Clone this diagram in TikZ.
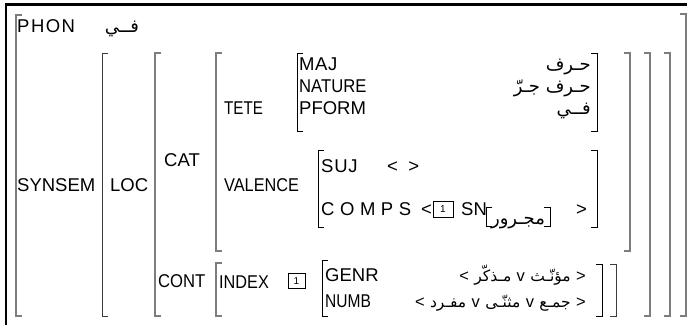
\documentclass[tikz,border=0pt]{standalone}
\usepackage{graphicx}
\usepackage{fontspec}
\setmainfont{Liberation Sans}
\newfontfamily\ar[Script=Arabic]{DejaVu Sans}
\TeXXeTstate=1
\definecolor{brk}{RGB}{125,125,125}
\definecolor{brkd}{RGB}{60,60,60}
\newcommand\avmL[4][big]{\draw[#1] (#2+6,#3) -- (#2,#3) -- (#2,#4) -- (#2+6,#4);}
\newcommand\avmR[4][big]{\draw[#1] (#2-6,#3) -- (#2,#3) -- (#2,#4) -- (#2-6,#4);}
\newcommand\LS[2]{{\addfontfeature{LetterSpace=#1}#2}}
\newcommand\SX[2]{\scalebox{#1}[1]{#2}}
\newcommand\AW[1]{{\ar\fontsize{15.5}{17}\selectfont\beginR #1\endR}}
\begin{document}
\begin{tikzpicture}[x=1pt,y=-1pt,
  big/.style={line width=1.4pt,draw=brk},
  dk/.style={line width=1pt,draw=brkd},
  thin/.style={line width=0.9pt,draw=black},
  lab/.style={anchor=base west,inner sep=0pt,font=\fontsize{18.5}{21}\selectfont},
  arv/.style={anchor=base east,inner sep=0pt,font=\ar\fontsize{18}{21}\selectfont},
  row/.style={anchor=base east,inner sep=0pt,font=\fontsize{16.5}{19}\selectfont},
  tagbox/.style={draw=black,line width=0.7pt,minimum width=20pt,minimum height=16pt,inner sep=0pt,font=\fontsize{10}{11}\selectfont}]
\useasboundingbox (0,0) rectangle (687,325);
% frame
\draw[line width=2.6pt,black] (6,325) -- (6,4.7) -- (687,4.7);
% brackets
\avmL{16}{15}{316}   \avmR{686}{14}{316}
\avmL[dk]{102}{53}{316} \avmR{670}{53}{316}
\avmL{155}{53}{316}  \avmR{650}{53}{316}
\avmL{216}{53}{251}  \avmR{630}{53}{251}
\avmL[thin]{297}{53}{131} \avmR[thin]{597}{53}{131}
\avmL[thin]{318}{150}{227} \avmR[thin]{597}{150}{227}
\avmL{216}{263}{316} \avmR[dk]{616}{264}{316}
\avmL[thin]{322}{260}{316} \avmR[thin]{602}{264}{316}
\avmL[thin]{486}{207}{226} \avmR[thin]{550}{207}{226}
% texts
\node[lab] (phon) at (17,32) {\LS{8}{PHON}};
\node[arv,anchor=base] (phonv) at (122,32) {\beginR فــي\endR};
\node[lab] (synsem) at (17,191) {SYNSEM};
\node[lab] (loc) at (110,191) {LOC};
\node[lab] (cat) at (164,166) {CAT};
\node[lab] (tete) at (224,114) {\SX{0.82}{TETE}};
\node[lab] (valence) at (224,191) {\SX{0.88}{VALENCE}};
\node[lab] (maj) at (299,70) {\LS{3}{MAJ}};
\node[lab] (nature) at (299,92) {\SX{0.9}{NATURE}};
\node[lab] (pform) at (299,114) {PFORM};
\node[arv] (majv) at (591,70) {\beginR حـرف\endR};
\node[arv] (naturev) at (591,92) {\beginR حـرف جـرّ\endR};
\node[arv] (pformv) at (591,114) {\beginR فــي\endR};
\node[lab] (suj) at (321,172) {\LS{4}{SUJ}};
\node[lab] (sujv) at (387,172) {<\ \ >};
\node[lab] (comps) at (321,215) {\LS{30}{COMPS}};
\node[lab] (lt) at (421,215) {<};
\node[tagbox] (tag1) at (443,209) {1};
\node[lab] (sn) at (461,215) {SN};
\node[arv,anchor=base] (majr) at (518,224) {\beginR مجـرور\endR};
\node[lab] (gt) at (576,215) {>};
\node[lab] (cont) at (158,287) {\SX{0.9}{CONT}};
\node[lab] (index) at (219,288) {\SX{0.88}{INDEX}};
\node[tagbox,minimum width=17pt,minimum height=15pt] (tag2) at (296.5,281) {1};
\node[lab] (genr) at (325,281) {GENR};
\node[lab] (numb) at (325,307) {\SX{0.84}{NUMB}};
% GENR value, left to right: < مذكر v مؤنث >
\node[row] (g5) at (586,281) {>};
\node[row] (g4) at ([xshift=-5pt]g5.base west) {\AW{مؤنّـث}};
\node[row] (g3) at ([xshift=-5pt]g4.base west) {v};
\node[row] (g2) at ([xshift=-5pt]g3.base west) {\AW{مـذكّر}};
\node[row] (g1) at ([xshift=-5pt]g2.base west) {<};
% NUMB value, left to right: < مفرد v مثنى v جمع >
\node[row] (n7) at (586,307) {>};
\node[row] (n6) at ([xshift=-5pt]n7.base west) {\AW{جمـع}};
\node[row] (n5) at ([xshift=-5pt]n6.base west) {v};
\node[row] (n4) at ([xshift=-5pt]n5.base west) {\AW{مثنّـى}};
\node[row] (n3) at ([xshift=-5pt]n4.base west) {v};
\node[row] (n2) at ([xshift=-5pt]n3.base west) {\AW{مفـرد}};
\node[row] (n1) at ([xshift=-5pt]n2.base west) {<};
\end{tikzpicture}
\end{document}
